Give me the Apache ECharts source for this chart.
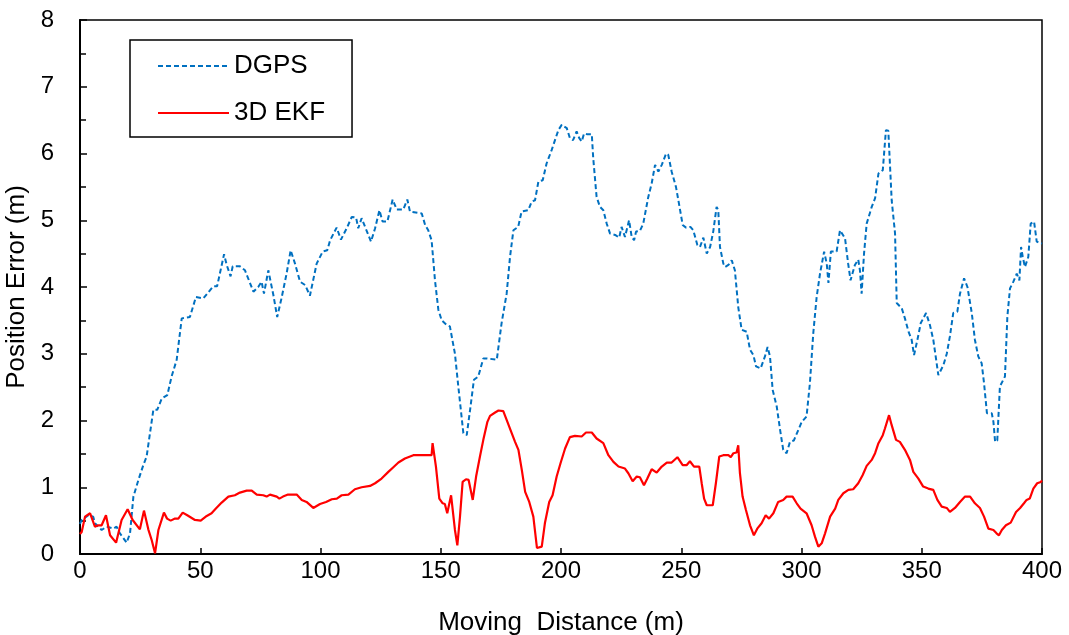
<!DOCTYPE html>
<html>
<head>
<meta charset="utf-8">
<script src="https://cdn.jsdelivr.net/npm/echarts@6/dist/echarts.min.js"></script>
<style>
html,body{margin:0;padding:0;background:#fff;}
#chart{width:1069px;height:635px;}
</style>
</head>
<body>
<div id="chart"></div>
<script>
const seriesNames = ['DGPS', '3D EKF'];
const xTicks = [0, 50, 100, 150, 200, 250, 300, 350, 400];
const yTicks = [0, 1, 2, 3, 4, 5, 6, 7, 8];

const dgpsDist = [0,0.7,3.5,5.5,6.2,9,11.1,13.9,15.2,16.6,18,19.4,20.8,22.2,24.3,26.3,27.7,29.1,30.5,32.1,34,36.3,38.1,40.2,42.3,45.7,48.2,51.3,55.4,57,59.9,61,62.6,63.5,66.5,68.6,72.1,74.1,75.5,76.5,78.3,80.4,82,83.9,85.9,87.6,89.4,91.5,93.6,95.6,98.4,100.9,102.8,104,106.7,108.5,110.9,113,114.8,115.7,117.1,121,122.7,124.5,125.8,127.8,130,131.7,134.4,136.1,137.2,142.1,143.5,144.8,146.2,147.6,149,150.4,152.5,153.8,155.9,157.3,159.4,160.8,162.2,163.8,165.6,167.7,169.3,173.3,175.3,177.4,178.8,180.2,182.2,183.6,186.4,187.8,189.2,190.6,192.4,194,196.1,197.5,198.9,200.3,201,202.4,203.7,205,206.5,207.6,208.6,209.6,210.7,212.8,213.4,214.8,216.2,217.6,219,220.4,222.5,224.2,225.2,226.6,228.3,229.4,230.4,231.2,232.8,234.2,236.3,237.7,239.1,240.5,241.9,243.7,244.6,246,247.8,248.8,250.6,252,253.8,255,256.7,257.8,259.2,260.6,262,263.3,264.7,265.4,266.1,267.5,268.2,269.6,271,272.3,273.7,275.1,277.2,278.6,280,281.1,283,284.8,285.9,286.9,288,289.7,291.1,292.4,293.8,295.2,296.8,298.7,300.1,302.1,303.5,304.9,306.3,307.7,309.4,310.5,311.2,312.2,314.6,316,318.1,319.4,320.4,322.2,323.6,324.3,325,326,327.1,329.2,330.6,332,333.8,335.1,336.1,337.5,338.9,339.6,341.7,343,344.5,345.8,346.8,348.2,349.6,351.8,353.4,354.8,356.9,359,360.4,361.7,363.1,364.8,365.9,367.6,369,370.8,372.1,373.5,374.9,375.9,377.1,379.1,379.8,380.5,381.4,382.5,384.6,385.6,386.7,388.1,389.5,390.6,391.3,392,392.9,394.3,395.3,396.7,397.8,400];
const dgpsErr = [0.45,0.51,0.58,0.56,0.46,0.36,0.41,0.38,0.41,0.31,0.24,0.17,0.31,0.86,1.11,1.33,1.46,1.81,2.16,2.16,2.33,2.38,2.66,2.91,3.53,3.55,3.85,3.83,4.01,4.01,4.49,4.33,4.16,4.31,4.31,4.25,3.93,4.0,4.08,3.9,4.25,3.88,3.55,3.85,4.2,4.55,4.35,4.08,4.03,3.87,4.35,4.53,4.55,4.7,4.89,4.71,4.88,5.05,5.04,4.88,5.03,4.68,4.88,5.15,4.98,4.98,5.31,5.16,5.16,5.31,5.13,5.1,4.93,4.85,4.7,4.1,3.66,3.5,3.43,3.41,3.0,2.51,1.81,1.78,2.16,2.61,2.66,2.93,2.93,2.91,3.46,3.9,4.45,4.85,4.9,5.13,5.15,5.28,5.3,5.58,5.6,5.85,6.05,6.2,6.35,6.43,6.43,6.38,6.23,6.2,6.33,6.23,6.18,6.3,6.29,6.29,5.93,5.35,5.2,5.15,4.95,4.8,4.78,4.74,4.9,4.75,5.0,4.75,4.7,4.83,4.84,4.95,5.35,5.55,5.83,5.73,5.83,6.0,5.98,5.73,5.5,5.3,4.93,4.89,4.9,4.85,4.63,4.6,4.74,4.5,4.6,4.83,5.2,5.15,4.6,4.35,4.3,4.33,4.4,4.25,3.7,3.36,3.33,3.06,2.98,2.81,2.78,2.96,3.1,2.96,2.46,2.21,1.86,1.56,1.51,1.68,1.7,1.86,1.98,2.06,2.56,3.31,3.85,4.2,4.53,4.35,4.06,4.53,4.53,4.85,4.73,4.35,4.1,4.33,4.41,4.25,3.9,4.5,4.95,5.2,5.33,5.7,5.75,6.35,6.34,5.3,4.8,3.76,3.68,3.53,3.33,3.21,2.98,3.21,3.46,3.61,3.43,3.21,2.68,2.83,3.0,3.26,3.61,3.63,3.9,4.13,4.0,3.61,3.21,2.96,2.86,2.56,2.11,2.11,1.98,1.68,1.7,2.51,2.66,3.56,3.98,4.08,4.2,4.1,4.6,4.45,4.3,4.45,4.95,4.98,4.68,4.65];

const ekfDist = [0,0.7,2.1,4.2,6.2,7.6,9,10.8,12.5,15,17.3,19.8,21.9,24.9,26.6,28.4,29.8,31.2,32.6,34.9,36.2,37.7,39.5,40.9,42.7,44.6,47.8,50.2,52.7,54.7,56.5,58.9,61.7,64.4,66.5,69.3,71.4,73.5,76.2,77.6,79,81.8,82.9,84.4,86.5,90.1,92.2,94.2,97,99.8,102.3,104.7,106.8,108.8,111.6,114.3,117.1,120.6,122.7,125.4,128.2,130.3,132.4,135.1,138.6,146.2,146.6,148,149.4,150.8,151.7,152.7,154.3,155.9,156.9,158,159.1,160.5,161.6,163.3,164.7,166.3,167.7,169.4,170.5,172.6,174,176,177.4,179.5,180.9,182.3,183.7,185.1,186.8,188.5,190,192,193.3,195.1,196.5,198.2,199.8,201.7,203.7,205.8,208.6,210.4,212.8,214.8,217.6,219.7,221.8,223.9,226.6,228,229.8,231.5,232.8,234.5,235.9,237.7,239.8,241.9,244,246,248.4,250.6,252.2,253.6,255.3,257.5,258.5,259.5,260.6,263.1,264.4,265.8,267.5,269.6,270.6,271.7,273,273.7,274.4,275.5,276.9,278.6,280.2,281.6,283.4,285.1,286.5,288.3,290.3,292.4,293.8,296.3,298,299.6,302.1,304.2,305.6,307,308.4,309.8,311.9,314,315.3,317.4,319.5,321.5,323.6,325.4,327.1,329.2,330.6,332,333.8,334.7,336.4,337.5,339.3,340.9,343,345.1,346.5,348.6,350.6,352.7,354.8,356.5,358.3,360.4,361.7,363.8,365.9,368,370.1,372.1,374.2,375.9,377.7,379.8,381.1,382.1,383.3,385,387,389.2,390.9,392.5,393.6,394.9,396.4,398,399.5,400];
const ekfErr = [0.3,0.33,0.56,0.61,0.41,0.43,0.43,0.58,0.28,0.17,0.51,0.67,0.51,0.37,0.65,0.37,0.21,0.01,0.36,0.62,0.53,0.5,0.53,0.53,0.62,0.58,0.51,0.5,0.57,0.61,0.68,0.77,0.86,0.88,0.92,0.95,0.95,0.89,0.88,0.86,0.89,0.86,0.83,0.86,0.89,0.89,0.81,0.78,0.69,0.75,0.78,0.82,0.83,0.88,0.89,0.97,1.0,1.02,1.06,1.13,1.23,1.3,1.37,1.43,1.48,1.48,1.66,1.31,0.83,0.76,0.75,0.61,0.88,0.36,0.13,0.56,1.08,1.12,1.11,0.81,1.16,1.46,1.71,1.98,2.07,2.12,2.15,2.14,2.01,1.81,1.68,1.56,1.26,0.93,0.78,0.56,0.09,0.11,0.46,0.78,0.88,1.16,1.36,1.58,1.75,1.77,1.76,1.82,1.82,1.73,1.66,1.48,1.38,1.31,1.28,1.21,1.09,1.16,1.15,1.03,1.13,1.27,1.22,1.31,1.37,1.37,1.45,1.33,1.33,1.39,1.31,1.31,1.06,0.83,0.73,0.73,1.06,1.46,1.48,1.48,1.45,1.51,1.52,1.63,1.21,0.86,0.66,0.43,0.28,0.38,0.46,0.58,0.53,0.61,0.78,0.81,0.86,0.86,0.76,0.68,0.61,0.43,0.26,0.11,0.16,0.31,0.56,0.68,0.81,0.91,0.96,0.97,1.06,1.18,1.32,1.41,1.51,1.66,1.78,1.88,2.08,1.93,1.71,1.68,1.56,1.41,1.23,1.13,1.01,0.98,0.96,0.81,0.71,0.69,0.63,0.69,0.78,0.86,0.86,0.76,0.69,0.56,0.38,0.36,0.31,0.28,0.36,0.43,0.47,0.63,0.69,0.76,0.81,0.83,0.98,1.06,1.08,1.1];

const FONT = '"Liberation Sans", Arial, sans-serif';
const chart = echarts.init(document.getElementById('chart'), null, {renderer: 'canvas'});
chart.setOption({
  animation: false,
  backgroundColor: '#ffffff',
  grid: {left: 80, right: 27, top: 20, bottom: 81, containLabel: false, outerBoundsMode: 'none', show: true, borderColor: '#000', borderWidth: 1.5, backgroundColor: 'transparent'},
  legend: {
    data: seriesNames,
    orient: 'vertical',
    left: 130, top: 40,
    padding: [13, 27, 11, 27],
    itemGap: 21,
    itemWidth: 71, itemHeight: 14,
    borderColor: '#000', borderWidth: 1.5,
    itemStyle: {opacity: 0, borderWidth: 0},
    textStyle: {fontFamily: FONT, fontSize: 26, color: '#000'}
  },
  xAxis: {
    type: 'value', min: xTicks[0], max: xTicks[xTicks.length - 1], interval: 50,
    name: 'Moving  Distance (m)', nameLocation: 'middle', nameGap: 56,
    nameTextStyle: {fontFamily: FONT, fontSize: 26, color: '#000'},
    axisLine: {show: true, lineStyle: {color: '#000', width: 2}},
    axisTick: {show: true, inside: true, length: 6, lineStyle: {color: '#000', width: 1.5}},
    axisLabel: {fontFamily: FONT, fontSize: 24, color: '#000', margin: 5},
    splitLine: {show: false}
  },
  yAxis: {
    type: 'value', min: yTicks[0], max: yTicks[yTicks.length - 1], interval: 1,
    name: 'Position Error (m)', nameLocation: 'middle', nameGap: 42,
    nameTextStyle: {fontFamily: FONT, fontSize: 26, color: '#000'},
    axisLine: {show: true, lineStyle: {color: '#000', width: 2}},
    axisTick: {show: true, inside: true, length: 7, lineStyle: {color: '#000', width: 1.5}},
    minorTick: {show: true, splitNumber: 2, length: 6, lineStyle: {color: '#000', width: 1.5}},
    axisLabel: {fontFamily: FONT, fontSize: 24, color: '#000', margin: 26},
    splitLine: {show: false}
  },
  series: [
    {
      name: seriesNames[0], type: 'line', symbol: 'none', showSymbol: false,
      data: dgpsDist.map((d, i) => [d, dgpsErr[i]]),
      lineStyle: {color: '#0070C0', width: 2, type: [5, 3]},
      itemStyle: {color: '#0070C0'},
      z: 2
    },
    {
      name: seriesNames[1], type: 'line', symbol: 'none', showSymbol: false,
      data: ekfDist.map((d, i) => [d, ekfErr[i]]),
      lineStyle: {color: '#FF0000', width: 2.2, type: 'solid'},
      itemStyle: {color: '#FF0000'},
      z: 3
    }
  ]
});
</script>
</body>
</html>
